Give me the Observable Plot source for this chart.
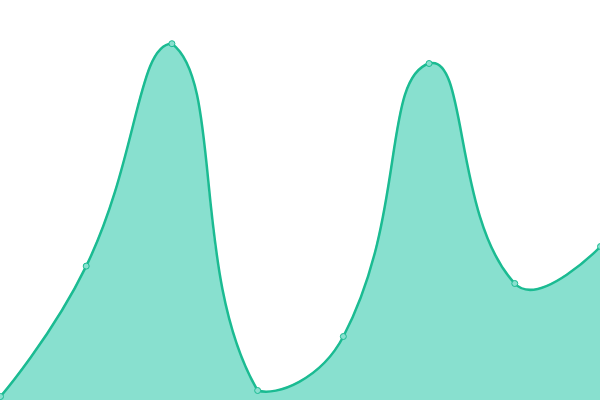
<!DOCTYPE html>
<html>
<head>
<meta charset="utf-8">
<script src="https://cdn.jsdelivr.net/npm/d3@7"></script>
<script src="https://cdn.jsdelivr.net/npm/@observablehq/plot@0.6"></script>
<style>
  html, body { margin: 0; padding: 0; background: #fff; overflow: hidden; }
</style>
</head>
<body>
<div id="chart"></div>
<script>
const xs = [0, 1, 2, 3, 4, 5, 6, 7];
const values = [1, 33.6, 89.2, 2.5, 16, 84.25, 29.25, 38.5];

const data = xs.map((x, i) => ({x, y: values[i]}));

// Distance-weighted smooth Bézier curve (smoothness 0.5), control points
// constrained to the bounding box of the line's points.
function SmoothCurve(context) { this._context = context; }
SmoothCurve.prototype = {
  areaStart() { this._line = 0; },
  areaEnd() { this._line = NaN; },
  lineStart() { this._pts = []; },
  point(x, y) { this._pts.push([+x, +y]); },
  lineEnd() {
    const p = this._pts, n = p.length, ctx = this._context, s = 0.5;
    if (n) {
      const xmin = Math.min(...p.map(d => d[0])), xmax = Math.max(...p.map(d => d[0]));
      const ymin = Math.min(...p.map(d => d[1])), ymax = Math.max(...p.map(d => d[1]));
      const cx = v => Math.max(xmin, Math.min(xmax, v));
      const cy = v => Math.max(ymin, Math.min(ymax, v));
      if (this._line) ctx.lineTo(p[0][0], p[0][1]); else ctx.moveTo(p[0][0], p[0][1]);
      let cpx0 = p[0][0], cpy0 = p[0][1];
      for (let i = 1; i < n; i++) {
        const [x, y] = p[i], [px, py] = p[i - 1];
        let cpx1 = x, cpy1 = y, vx = 0, vy = 0, r = 0.5;
        if (i < n - 1) {
          const [nx, ny] = p[i + 1];
          vx = nx - px; vy = ny - py;
          const l0 = Math.hypot(x - px, y - py), l1 = Math.hypot(nx - x, ny - y);
          r = l0 + l1 > 0 ? l1 / (l0 + l1) : 0.5;
          cpx1 = cx(x - vx * s * (1 - r)); cpy1 = cy(y - vy * s * (1 - r));
        }
        ctx.bezierCurveTo(cpx0, cpy0, cpx1, cpy1, x, y);
        cpx0 = cx(x + vx * s * r); cpy0 = cy(y + vy * s * r);
      }
    }
    if (this._line || (this._line !== 0 && n === 1)) ctx.closePath();
    this._line = 1 - this._line;
  }
};
const smooth = (context) => new SmoothCurve(context);

const chart = Plot.plot({
  width: 600,
  height: 400,
  margin: 0,
  x: {domain: [0, 7], axis: null},
  y: {domain: [0, 100], axis: null},
  marks: [
    Plot.areaY(data, {x: "x", y: "y", curve: smooth, fill: "#88e0cf"}),
    Plot.lineY(data, {x: "x", y: "y", curve: smooth, stroke: "#1bbb92", strokeWidth: 2.5}),
    Plot.dot(data, {x: "x", y: "y", r: 3, fill: "#88e0cf", stroke: "#1bbb92", strokeWidth: 1})
  ]
});
document.getElementById("chart").appendChild(chart);
</script>
</body>
</html>
